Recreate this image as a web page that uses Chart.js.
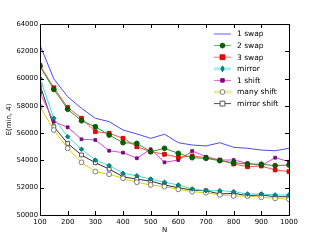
<!DOCTYPE html>
<html><head><meta charset="utf-8">
<script src="https://cdn.jsdelivr.net/npm/chart.js@4"></script>
<style>html,body{margin:0;padding:0;background:#fff}#w{width:320px;height:240px}</style>
</head><body><div id="w"><canvas id="c" width="320" height="240"></canvas></div>
<script>
const Ns = [100,150,200,250,300,350,400,450,500,550,600,650,700,750,800,850,900,950,1000];
const swap1 = [62460,59970,58670,57820,57090,56840,56230,55940,55620,55920,55300,55130,55060,55300,54960,54890,54760,54710,54890];
const swap2 = [60900,59200,57750,56910,56470,55860,55300,55250,54640,54890,54520,54200,54150,53980,53830,53740,53720,53620,53670];
const swap3 = [60970,59330,57890,57090,56110,55990,55620,55000,54640,54450,54230,54330,54200,54030,53740,53540,53590,53300,53180];
const mirror = [60020,57090,55740,54820,54030,53620,53060,52880,52640,52400,52200,51910,51780,51780,51710,51540,51540,51470,51470];
const shift1 = [58960,56840,56430,55550,55500,54710,54570,54160,54820,53860,54030,54690,54270,54030,54030,53790,53620,54200,53910];
const manyShift = [57940,56230,54890,53860,53180,52980,52690,52400,52200,52080,51880,51710,51630,51470,51390,51390,51300,51220,51150];
const mirrorShift = [59530,56470,55250,54400,53830,53370,52810,52620,52490,52200,52000,51830,51780,51540,51590,51420,51470,51340,51340];
const xTicks = [100,200,300,400,500,600,700,800,900,1000];
const yTicks = [50000,52000,54000,56000,58000,60000,62000,64000];
const seriesNames = ['1 swap','2 swap','3 swap','mirror','1 shift','many shift','mirror shift'];

const FONT = 'DejaVu Sans';
const pts = arr => arr.map((v,i)=>({x:Ns[i], y:v}));
const styles = [
  {line:'#4a4aff', pt:'circle', r:0, fill:'#4a4aff', edge:'#4a4aff', legLine:'#6060ff', lw:1},
  {line:'#2e9a2e', pt:'circle', r:2.4, fill:'#006400', edge:'#004d00', legLine:'#60b060', lw:1},
  {line:'#ff5050', pt:'rect', r:2.7, fill:'#ff0000', edge:'#b00000', legLine:'#ff7070', lw:1},
  {line:'#40dede', pt:'rectRot', r:2.3, fill:'#008b8b', edge:'#006060', legLine:'#a8f0f0', lw:1, legW:3},
  {line:'#e040e0', pt:'rect', r:2, fill:'#8b008b', edge:'#700070', legLine:'#e060e0', lw:1},
  {line:'#d4d400', pt:'circle', r:2.4, fill:'#ffffff', edge:'#606060', legLine:'#eaeaa0', lw:1, legW:3},
  {line:'#303030', pt:'rect', r:2.7, fill:'#ffffff', edge:'#303030', legLine:'#505050', lw:1}
];
const allData = [swap1,swap2,swap3,mirror,shift1,manyShift,mirrorShift];

const datasets = allData.map((d,i)=>({
  label: seriesNames[i], data: pts(d),
  borderColor: styles[i].line, borderWidth: styles[i].lw,
  pointStyle: styles[i].pt, pointRadius: styles[i].r,
  pointBackgroundColor: styles[i].fill, pointBorderColor: styles[i].edge, pointBorderWidth: 0.8,
  tension: 0, fill: false
}));

function drawMarker(ctx, st, x, y){
  if (!st.r) return;
  ctx.save();
  ctx.fillStyle = st.fill; ctx.strokeStyle = st.edge; ctx.lineWidth = 0.8;
  const r = st.r;
  ctx.beginPath();
  if (st.pt==='circle') ctx.arc(x,y,r,0,Math.PI*2);
  else if (st.pt==='rect') { const s=r*0.9; ctx.rect(x-s,y-s,2*s,2*s); }
  else if (st.pt==='rectRot') { ctx.moveTo(x,y-r*1.3); ctx.lineTo(x+r*0.7,y); ctx.lineTo(x,y+r*1.3); ctx.lineTo(x-r*0.7,y); ctx.closePath(); }
  ctx.fill(); ctx.stroke();
  ctx.restore();
}

const framePlugin = {
  id:'frame',
  afterDraw(chart){
    const {ctx, chartArea:a, scales:{x,y}} = chart;
    ctx.save();
    ctx.strokeStyle = '#000'; ctx.lineWidth = 1;
    ctx.strokeRect(a.left+0.5, a.top+0.5, a.right-a.left, a.bottom-a.top);
    ctx.beginPath();
    xTicks.forEach(t=>{ const px=Math.round(x.getPixelForValue(t))+0.5;
      ctx.moveTo(px,a.bottom); ctx.lineTo(px,a.bottom-4);
      ctx.moveTo(px,a.top); ctx.lineTo(px,a.top+4); });
    yTicks.forEach(t=>{ const py=Math.round(y.getPixelForValue(t))+0.5;
      ctx.moveTo(a.left,py); ctx.lineTo(a.left+4,py);
      ctx.moveTo(a.right,py); ctx.lineTo(a.right-4,py); });
    ctx.stroke();
    // legend
    const x0=214, x1=231, tx=237, y0=34, dy=11.6;
    ctx.font = '7.5px "'+FONT+'"'; ctx.textBaseline='middle'; ctx.textAlign='left';
    seriesNames.forEach((n,i)=>{
      const st=styles[i], yy=y0+i*dy;
      ctx.strokeStyle=st.legLine; ctx.lineWidth=st.legW||1;
      ctx.beginPath(); ctx.moveTo(x0,yy); ctx.lineTo(x1,yy); ctx.stroke();
      drawMarker(ctx, st, (x0+x1)/2, yy);
      ctx.fillStyle='#000'; ctx.fillText(n, tx, yy+0.5);
    });
    ctx.restore();
  }
};

new Chart(document.getElementById('c'), {
  type:'line',
  data:{datasets},
  options:{
    responsive:false, animation:false, devicePixelRatio:1,
    layout:{padding:{left:5,right:31,top:24,bottom:6}},
    plugins:{legend:{display:false}, tooltip:{enabled:false}},
    scales:{
      x:{type:'linear', min:100, max:1000,
        grid:{display:false, drawTicks:false, tickLength:0}, border:{display:false},
        ticks:{stepSize:100, color:'#000', font:{family:FONT,size:7}, padding:3, maxRotation:0, callback:v=>String(v)},
        title:{display:true, text:'N', color:'#000', font:{family:FONT,size:7}, padding:{top:0,bottom:0}},
        afterFit:s=>{s.height=19;}
      },
      y:{type:'linear', min:50000, max:64000,
        grid:{display:false, drawTicks:false, tickLength:0}, border:{display:false},
        ticks:{stepSize:2000, color:'#000', font:{family:FONT,size:6.8}, padding:2, callback:v=>String(v)},
        title:{display:true, text:'E(min, 4)', color:'#000', font:{family:FONT,size:7}, padding:{top:0,bottom:1}},
        afterFit:s=>{s.width=35;}
      }
    }
  },
  plugins:[framePlugin]
});
</script></body></html>
